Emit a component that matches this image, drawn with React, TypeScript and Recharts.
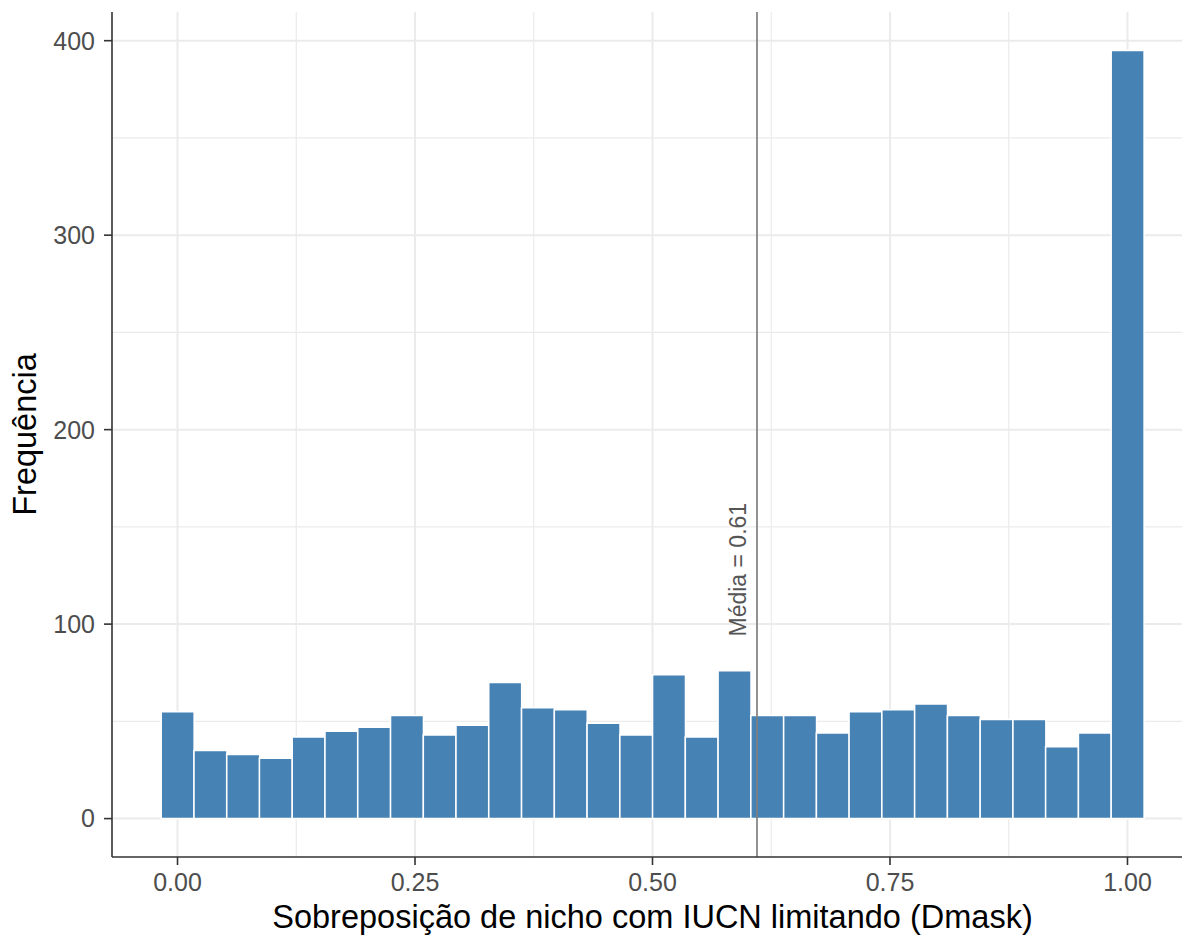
import React from 'react';
import {
  BarChart, Bar, XAxis, YAxis, CartesianGrid, ReferenceLine, ReferenceDot
} from 'recharts';

// histogram bins (centres) and counts
const binCenters = [
  0.0000, 0.0345, 0.0690, 0.1034, 0.1379, 0.1724, 0.2069, 0.2414, 0.2759, 0.3103,
  0.3448, 0.3793, 0.4138, 0.4483, 0.4828, 0.5172, 0.5517, 0.5862, 0.6207, 0.6552,
  0.6897, 0.7241, 0.7586, 0.7931, 0.8276, 0.8621, 0.8966, 0.9310, 0.9655, 1.0000
];
const counts = [
  55, 35, 33, 31, 42, 45, 47, 53, 43, 48,
  70, 57, 56, 49, 43, 74, 42, 76, 53, 53,
  44, 55, 56, 59, 53, 51, 51, 37, 44, 395
];

const xTicks = [0, 0.25, 0.5, 0.75, 1];
const xMinor = [0.125, 0.375, 0.625, 0.875];
const yTicks = [0, 100, 200, 300, 400];
const yMinor = [50, 150, 250, 350];

const meanValue = 0.61;
const meanLabel = 'Média = 0.61';
const meanLabelPos = { x: 0.59, y: 128 };

const xTitle = 'Sobreposição de nicho com IUCN limitando (Dmask)';
const yTitle = 'Frequência';

const data = binCenters.map((x, i) => ({ x, count: counts[i] }));

const FONT = '"Liberation Sans", Arial, Helvetica, sans-serif';
const GRID = '#EBEBEB';
const BORDER = '#333333';

export default function App() {
  return (
    <div style={{ position: 'absolute', left: 0, top: 0, width: 1182, height: 935, overflow: 'hidden', background: '#fff', fontFamily: FONT }}>
      <BarChart
        width={1200}
        height={935}
        data={data}
        margin={{ top: 12, right: 7, left: 0, bottom: 0 }}
        barCategoryGap={0}
        barGap={0}
      >
        {/* minor grid */}
        <CartesianGrid stroke={GRID} strokeWidth={1.2} verticalValues={xMinor} horizontalValues={yMinor} />
        {/* major grid */}
        <CartesianGrid stroke={GRID} strokeWidth={2} verticalValues={xTicks} horizontalValues={yTicks} />

        <XAxis
          dataKey="x"
          type="number"
          domain={[-0.06897, 1.06897]}
          allowDataOverflow
          ticks={xTicks}
          tickFormatter={(v: number) => v.toFixed(2)}
          height={78}
          tickSize={8}
          tickMargin={8}
          tick={{ fill: '#4D4D4D', fontSize: 25, fontFamily: FONT }}
          tickLine={{ stroke: BORDER, strokeWidth: 1.6 }}
          axisLine={{ stroke: BORDER, strokeWidth: 1.6 }}
          label={{
            content: (p: any) => {
              const vb = p.viewBox;
              return (
                <text x={vb.x + vb.width / 2} y={vb.y + 71} textAnchor="middle" fontSize={32.5} fontFamily={FONT} fill="#000">
                  {xTitle}
                </text>
              );
            }
          }}
        />
        {/* top panel border */}
        <XAxis
          xAxisId="top"
          orientation="top"
          dataKey="x"
          type="number"
          domain={[-0.06897, 1.06897]}
          allowDataOverflow
          height={0}
          tick={false}
          tickLine={false}
          axisLine={{ stroke: BORDER, strokeWidth: 1.6 }}
        />
        <YAxis
          type="number"
          domain={[-19.75, 414.75]}
          allowDataOverflow
          ticks={yTicks}
          width={112}
          tickSize={8}
          tickMargin={9}
          tick={{ fill: '#4D4D4D', fontSize: 25, fontFamily: FONT }}
          tickLine={{ stroke: BORDER, strokeWidth: 1.6 }}
          axisLine={{ stroke: BORDER, strokeWidth: 1.6 }}
          label={{
            content: (p: any) => {
              const vb = p.viewBox;
              const cx = vb.x + 36;
              const cy = vb.y + vb.height / 2;
              return (
                <text x={cx} y={cy} transform={`rotate(-90 ${cx} ${cy})`} textAnchor="middle" fontSize={32.5} fontFamily={FONT} fill="#000">
                  {yTitle}
                </text>
              );
            }
          }}
        />

        <Bar dataKey="count" fill="#4682B4" stroke="#FFFFFF" strokeWidth={1.6} isAnimationActive={false} />

        <ReferenceLine x={meanValue} stroke="#7F7F7F" strokeWidth={1.7} />
        <ReferenceDot
          x={meanLabelPos.x}
          y={meanLabelPos.y}
          r={1}
          fill="none"
          stroke="none"
          label={{
            content: (p: any) => {
              const vb = p.viewBox;
              const cx = vb.x + (vb.width || 0) / 2;
              const cy = vb.y + (vb.height || 0) / 2;
              return (
                <text x={cx} y={cy} transform={`rotate(-90 ${cx} ${cy})`} textAnchor="middle" dominantBaseline="central" fontSize={23} fontFamily={FONT} fill="#555555">
                  {meanLabel}
                </text>
              );
            }
          }}
        />
      </BarChart>
    </div>
  );
}
